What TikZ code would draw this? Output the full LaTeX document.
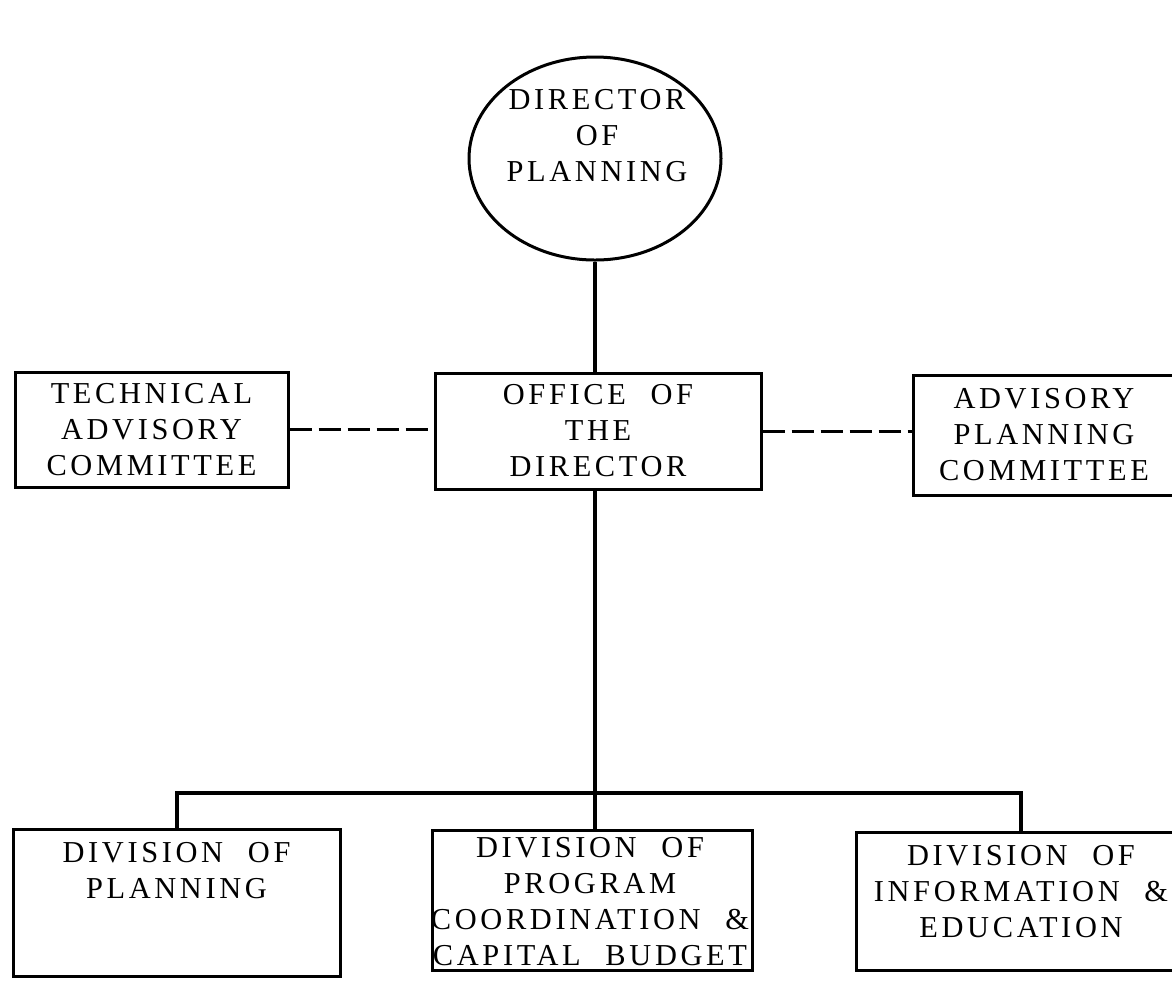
\documentclass[tikz,border=0pt]{standalone}
\usepackage{fontspec}
\newfontfamily\orgfont{Liberation Serif}[LetterSpace=12,WordSpace=2.2]
\usetikzlibrary{shapes.geometric,calc}
\begin{document}
\begin{tikzpicture}[x=0.5pt,y=-0.5pt,
  box/.style={draw, line width=1.5pt, rectangle, inner sep=0pt},
  oval/.style={draw, line width=1.5pt, ellipse, inner sep=0pt},
  txt/.style={font=\orgfont\fontsize{15.2}{18}\selectfont, align=center, inner sep=0pt},
  conn/.style={line width=2pt},
  dashconn/.style={line width=1.5pt, dash pattern=on 11pt off 3.5pt}]
\clip (0,0) rectangle (1172,982);
\fill[white] (0,0) rectangle (1172,982);
% director
\node[oval, minimum width=126pt, minimum height=101.5pt] (dir) at (595,158.5) {};
\node[txt] (dirt) at (597,136) {DIRECTOR\\OF\\PLANNING};
% middle row
\node[box, txt, minimum width=136.5pt, minimum height=57.5pt] (tac) at (151.5,429.5) {TECHNICAL\\ADVISORY\\COMMITTEE};
\node[box, txt, minimum width=163pt, minimum height=58pt] (off) at (598,431) {OFFICE OF\\THE\\DIRECTOR};
\node[box, txt, minimum width=131pt, minimum height=60pt] (apc) at (1044,435) {ADVISORY\\PLANNING\\COMMITTEE};
% bottom row
\node[box, minimum width=163.5pt, minimum height=73.5pt] (dp) at (176.5,902.5) {};
\node[txt, anchor=north] (dpt) at (176.5,842) {DIVISION OF\\PLANNING};
\node[box, minimum width=160pt, minimum height=70pt] (dm) at (592,900) {};
\node[txt, anchor=north] (dmt) at (590,837) {DIVISION OF\\PROGRAM\\COORDINATION \&\\CAPITAL BUDGET};
\node[box, minimum width=165pt, minimum height=69pt] (di) at (1021,901) {};
\node[txt, anchor=north] (dit) at (1021,845) {DIVISION OF\\INFORMATION \&\\EDUCATION};
\coordinate (bar) at (594,793);
% connectors
\draw[conn] (dir.south) -- (dir.south |- off.north);
\draw[dashconn] (tac.east) -- (tac.east -| off.west);
\draw[dashconn] (off.east) -- (off.east -| apc.west);
\draw[conn] (dir.south |- off.south) -- (dir.south |- dm.north);
\draw[conn] (dp.north) -- (dp.north |- bar) -- (di.north |- bar) -- (di.north);
\end{tikzpicture}
\end{document}
